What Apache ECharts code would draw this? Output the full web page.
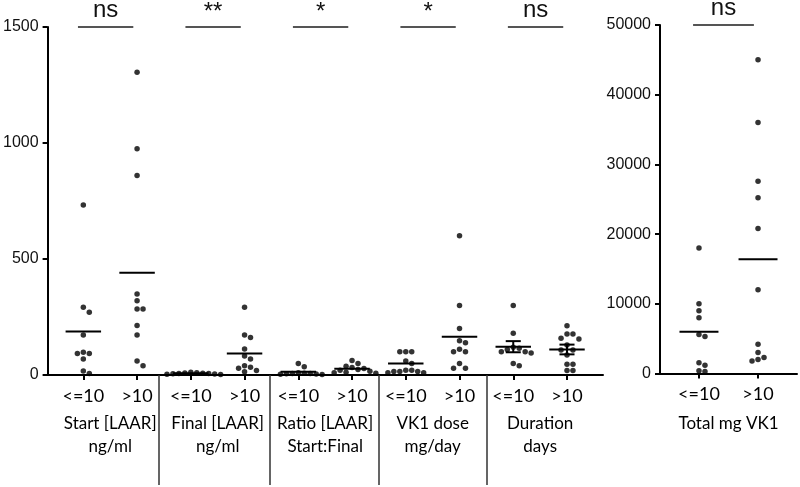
<!DOCTYPE html>
<html><head><meta charset="utf-8">
<script src="https://cdn.jsdelivr.net/npm/echarts@6/dist/echarts.min.js"></script>
<style>html,body{margin:0;padding:0;background:#fff}#c{width:800px;height:487px}</style>
</head><body><div id="c"></div>
<script>
// ---- data ----
const groupNames = ['Start [LAAR]\nng/ml', 'Final [LAAR]\nng/ml', 'Ratio [LAAR]\nStart:Final', 'VK1 dose\nmg/day', 'Duration\ndays'];
const rightGroupName = 'Total mg VK1';
const subLabels = ['<=10', '>10'];
const sigLabels = ['ns', '**', '*', '*', 'ns'];
const rightSigLabel = 'ns';
const leftTicks = [0, 500, 1000, 1500];
const rightTicks = [0, 10000, 20000, 30000, 40000, 50000];

const startLow = [733, 292, 270, 172, 98, 93, 93, 69, 17, 7];
const startHigh = [1305, 975, 860, 349, 320, 284, 284, 213, 172, 60, 40];
const finalLow = [12, 10, 9, 8, 7, 6, 5, 4, 3, 2];
const finalHigh = [292, 172, 162, 112, 82, 69, 40, 33, 29, 19, 14];
const ratioLow = [50, 36, 10, 8, 7, 6, 5, 4, 3, 2];
const ratioHigh = [63, 50, 38, 32, 28, 24, 20, 16, 12, 10, 8];
const doseLow = [100, 100, 100, 60, 50, 20, 20, 15, 15, 15, 10, 10];
const doseHigh = [600, 300, 200, 148, 139, 111, 100, 100, 50, 29, 29];
const durLow = [300, 180, 120, 115, 110, 100, 100, 95, 50, 40];
const durHigh = [212, 177, 177, 158, 155, 129, 108, 108, 86, 46, 46, 19, 19];
const totalLow = [18000, 10000, 9000, 8000, 5600, 5300, 1550, 1200, 400, 300];
const totalHigh = [45000, 36000, 27600, 25200, 20800, 12000, 4200, 3000, 2300, 2000, 1800];

const leftMeans = [187, 441, 8, 93, 14, 27, 50, 165, 122, 110];
const durSem = [24, 21];
const rightMeans = [6000, 16400];

// ---- layout ----
const W = 800, H = 487;
const gL = { left: 44, right: 197, top: 27, bottom: 112 };
const gR = { left: 660, right: 3, top: 25, bottom: 113.5 };
const xL = { min: -0.665, max: 9.67 };
const xR = { min: -0.66, max: 1.66 };
const pxPerXL = (W - gL.left - gL.right) / (xL.max - xL.min);
const pxPerYL = (H - gL.top - gL.bottom) / 1500;
const pxPerXR = (W - gR.left - gR.right) / (xR.max - xR.min);
const pxPerYR = (H - gR.top - gR.bottom) / 50000;

// beeswarm layout (deterministic, avoids overlap)
function swarm(values, xc, px, py, d) {
  const order = values.map((v, i) => i).sort((a, b) => values[b] - values[a]);
  const placed = [];
  const out = [];
  for (const i of order) {
    const y = values[i] * py;
    let off = 0;
    for (let k = 0; k < 60; k++) {
      const cand = k === 0 ? 0 : (k % 2 ? 1 : -1) * Math.ceil(k / 2) * d;
      if (placed.every(p => (p[0] - cand) ** 2 + (p[1] - y) ** 2 >= d * d * 0.95)) { off = cand; break; }
    }
    placed.push([off, y]);
    out.push([xc + off / px, values[i]]);
  }
  return out;
}

const leftSets = [startLow, startHigh, finalLow, finalHigh, ratioLow, ratioHigh, doseLow, doseHigh, durLow, durHigh];
let leftPts = [];
leftSets.forEach((s, i) => { leftPts = leftPts.concat(swarm(s, i, pxPerXL, pxPerYL, 6)); });
let rightPts = [];
[totalLow, totalHigh].forEach((s, i) => { rightPts = rightPts.concat(swarm(s, i, pxPerXR, pxPerYR, 6)); });

const FONT_NUM = 'Liberation Sans';
const FONT_LBL = 'Lato';

function meanRender(params, api) {
  const x = api.value(0), y = api.value(1);
  const a = api.coord([x - 0.33, y]), b = api.coord([x + 0.33, y]);
  return { type: 'line', shape: { x1: a[0], y1: a[1], x2: b[0], y2: b[1] }, style: { stroke: '#000', lineWidth: 2 } };
}
function errRender(params, api) {
  const x = api.value(0), m = api.value(1), e = api.value(2);
  const t = api.coord([x, m + e]), bt = api.coord([x, m - e]);
  const c1 = api.coord([x - 0.14, m + e]), c2 = api.coord([x + 0.14, m + e]);
  const c3 = api.coord([x - 0.14, m - e]), c4 = api.coord([x + 0.14, m - e]);
  const st = { stroke: '#000', lineWidth: 2 };
  return { type: 'group', children: [
    { type: 'line', shape: { x1: t[0], y1: t[1], x2: bt[0], y2: bt[1] }, style: st },
    { type: 'line', shape: { x1: c1[0], y1: c1[1], x2: c2[0], y2: c2[1] }, style: st },
    { type: 'line', shape: { x1: c3[0], y1: c3[1], x2: c4[0], y2: c4[1] }, style: st }
  ] };
}
function sigRender(labels) {
  return function (params, api) {
    const x = api.value(0), y = api.value(1);
    const a = api.coord([x - 0.1, y]), b = api.coord([x + 0.93, y]);
    const lab = labels[params.dataIndex];
    const mx = (a[0] + b[0]) / 2;
    return { type: 'group', children: [
      { type: 'line', shape: { x1: a[0], y1: a[1], x2: b[0], y2: b[1] }, style: { stroke: '#555', lineWidth: 2 } },
      { type: 'text', x: mx, y: a[1] - (lab === 'ns' ? 5 : 3), style: { text: lab, font: '24px "Liberation Sans"', fill: '#111', align: 'center', verticalAlign: 'bottom' } }
    ] };
  };
}

const plain = v => String(v);
const idx10 = [0, 1, 2, 3, 4, 5, 6, 7, 8, 9];
const lblStyle = { fontFamily: FONT_LBL, fontSize: 17, color: '#000' };
const option = {
  animation: false,
  backgroundColor: '#fff',
  grid: [
    Object.assign({ containLabel: false }, gL),
    Object.assign({ containLabel: false }, gR)
  ],
  xAxis: [
    { type: 'value', gridIndex: 0, min: xL.min, max: xL.max, position: 'bottom',
      axisLine: { show: true, onZero: false, lineStyle: { color: '#000', width: 2 } },
      axisTick: { show: true, customValues: idx10, length: 5, lineStyle: { color: '#000', width: 2 } },
      axisLabel: Object.assign({ show: true, customValues: idx10, formatter: v => subLabels[Math.round(v) % 2], margin: 12, fontSize: 18 }, { fontFamily: FONT_LBL, color: '#000' }),
      splitLine: { show: false } },
    { type: 'value', gridIndex: 0, min: xL.min, max: xL.max, position: 'bottom',
      axisLine: { show: false, onZero: false },
      axisTick: { show: true, customValues: [1.41, 3.46, 5.49, 7.51], length: 110, lineStyle: { color: '#333', width: 1.5 } },
      axisLabel: Object.assign({ show: true, customValues: [0.5, 2.5, 4.5, 6.5, 8.5], formatter: v => groupNames[Math.round((v - 0.5) / 2)], lineHeight: 23, margin: 37 }, lblStyle),
      splitLine: { show: false } },
    { type: 'value', gridIndex: 1, min: xR.min, max: xR.max, position: 'bottom',
      axisLine: { show: true, onZero: false, lineStyle: { color: '#000', width: 2 } },
      axisTick: { show: true, customValues: [0, 1], length: 5, lineStyle: { color: '#000', width: 2 } },
      axisLabel: Object.assign({ show: true, customValues: [0, 1], formatter: v => subLabels[Math.round(v)], margin: 12, fontSize: 18 }, { fontFamily: FONT_LBL, color: '#000' }),
      splitLine: { show: false } },
    { type: 'value', gridIndex: 1, min: xR.min, max: xR.max, position: 'bottom',
      axisLine: { show: false, onZero: false },
      axisTick: { show: false },
      axisLabel: Object.assign({ show: true, customValues: [0.5], formatter: () => rightGroupName, lineHeight: 23, margin: 39 }, lblStyle),
      splitLine: { show: false } }
  ],
  yAxis: [
    { type: 'value', gridIndex: 0, min: 0, max: 1500,
      axisLine: { show: true, onZero: false, lineStyle: { color: '#000', width: 2 } },
      axisTick: { show: true, customValues: leftTicks, length: 5, lineStyle: { color: '#000', width: 2 } },
      axisLabel: { customValues: leftTicks, formatter: plain, fontFamily: FONT_NUM, fontSize: 16, color: '#111', margin: 9 },
      splitLine: { show: false } },
    { type: 'value', gridIndex: 1, min: 0, max: 50000,
      axisLine: { show: true, onZero: false, lineStyle: { color: '#000', width: 2 } },
      axisTick: { show: true, customValues: rightTicks, length: 5, lineStyle: { color: '#000', width: 2 } },
      axisLabel: { customValues: rightTicks, formatter: plain, fontFamily: FONT_NUM, fontSize: 16, color: '#111', margin: 9 },
      splitLine: { show: false } }
  ],
  series: [
    { type: 'scatter', xAxisIndex: 0, yAxisIndex: 0, data: leftPts, symbol: 'circle', symbolSize: 5.5, itemStyle: { color: '#000' }, clip: false, z: 4 },
    { type: 'scatter', xAxisIndex: 2, yAxisIndex: 1, data: rightPts, symbol: 'circle', symbolSize: 5.5, itemStyle: { color: '#000' }, clip: false, z: 4 },
    { type: 'custom', xAxisIndex: 0, yAxisIndex: 0, data: leftMeans.map((m, i) => [i, m]), renderItem: meanRender, z: 3 },
    { type: 'custom', xAxisIndex: 2, yAxisIndex: 1, data: rightMeans.map((m, i) => [i, m]), renderItem: meanRender, z: 3 },
    { type: 'custom', xAxisIndex: 0, yAxisIndex: 0, data: durSem.map((e, i) => [8 + i, leftMeans[8 + i], e]), renderItem: errRender, z: 3 },
    { type: 'custom', xAxisIndex: 0, yAxisIndex: 0, data: sigLabels.map((s, i) => [2 * i, 1500]), renderItem: sigRender(sigLabels), clip: false, z: 3 },
    { type: 'custom', xAxisIndex: 2, yAxisIndex: 1, data: [[0, 50000]], renderItem: sigRender([rightSigLabel]), clip: false, z: 3 }
  ]
};
const chart = echarts.init(document.getElementById('c'), null, { renderer: 'canvas' });
chart.setOption(option);
</script>
</body></html>
